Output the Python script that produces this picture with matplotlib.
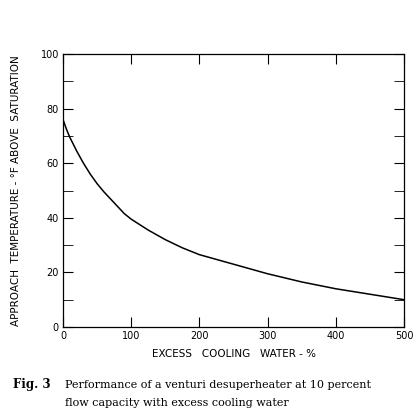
import numpy as np
from matplotlib import pyplot as plt

# curve
excess = [0, 5, 10, 20, 30, 40, 50, 60, 75, 90, 100, 125, 150, 175, 200, 250, 300, 350, 400, 450, 500]
approach = [76, 72.5, 69.5, 64.5, 60, 56, 52.5, 49.5, 45.5, 41.5, 39.5, 35.5, 32, 29, 26.5, 23, 19.5, 16.5, 14, 12, 10]

fig = plt.figure(figsize=(4.2, 4.19), dpi=100)
ax = fig.add_axes([0.15, 0.2196, 0.812, 0.6514])

ax.plot(excess, approach, color="black", lw=1.1)

ax.set_xlim(0, 500)
ax.set_ylim(0, 100)
ax.set_xticks(range(0, 501, 100))
ax.set_yticks(range(0, 101, 20))
ax.set_yticks(range(0, 101, 10), minor=True)
ax.tick_params(which="both", direction="in", top=True, right=True, length=7,
               labelsize=7, pad=3)
for s in ax.spines.values():
    s.set_linewidth(0.9)

ax.set_xlabel("EXCESS   COOLING   WATER - %", fontsize=7.5, labelpad=6)
ax.set_ylabel("APPROACH  TEMPERATURE - °F ABOVE  SATURATION", fontsize=7.5, labelpad=14)

fig.text(0.03, 0.075, "Fig. 3", fontsize=8.5, family="DejaVu Serif", fontweight="bold")
fig.text(0.155, 0.075, "Performance of a venturi desuperheater at 10 percent",
         fontsize=8, family="DejaVu Serif")
fig.text(0.155, 0.03, "flow capacity with excess cooling water",
         fontsize=8, family="DejaVu Serif")

fig.savefig("out.png")
